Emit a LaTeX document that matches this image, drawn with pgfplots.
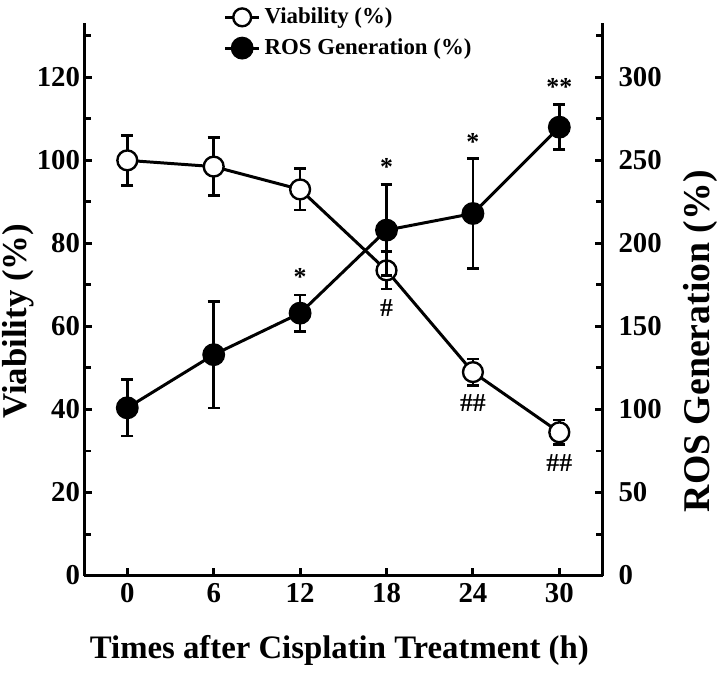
\documentclass[border=0pt]{standalone}
\usepackage{fontspec}
\setmainfont{Liberation Serif}
\usepackage{pgfplots}
\pgfplotsset{compat=1.18}
\begin{document}
\begin{tikzpicture}
\pgfplotsset{
  every axis/.append style={
    scale only axis, width=261pt, height=278pt,
    xmin=-3, xmax=33,
    line width=1.5pt,
    tick align=inside,
    major tick length=4pt, minor tick length=3.5pt,
    every tick/.style={line width=1.5pt, black},
    x axis line style={-}, y axis line style={-},
    /pgf/number format/assume math mode=true,
    tick label style={font=\bfseries\fontsize{14.5}{17}\selectfont},
  },
  vstyle/.style={black, line width=1.5pt, mark=*, mark size=5pt, mark options={fill=white, line width=1.2pt},
    error bars/.cd, y dir=both, y explicit, error bar style={line width=1.3pt}, error mark options={rotate=90, line width=1.3pt, mark size=3pt}},
  rstyle/.style={black, line width=1.5pt, mark=*, mark size=5pt, mark options={fill=black},
    error bars/.cd, y dir=both, y explicit, error bar style={line width=1.3pt}, error mark options={rotate=90, line width=1.3pt, mark size=3pt}},
}
\begin{axis}[
  axis y line*=left, axis x line*=bottom,
  ymin=0, ymax=133,
  ytick={0,20,...,120}, minor ytick={10,30,...,130},
  xtick={0,6,...,30},
  yticklabel style={xshift=2pt},
  xlabel={Times after Cisplatin Treatment (h)},
  ylabel={Viability (\%)},
  xlabel style={font=\bfseries\fontsize{16.5}{19}\selectfont, yshift=-9pt, xshift=-2pt},
  ylabel style={font=\bfseries\fontsize{17.5}{20}\selectfont, inner sep=1pt, yshift=-3.5pt, xshift=-11pt},
]
\addplot+[vstyle] coordinates {
  (0,100) +- (0,6)
  (6,98.5) +- (0,7)
  (12,93) +- (0,5)
  (18,73.5) +- (0,4.5)
  (24,49) +- (0,3.2)
  (30,34.5) +- (0,3)
};
\node[font=\bfseries\fontsize{13}{15}\selectfont, anchor=north] at (axis cs:18,68.5) {\#};
\node[font=\bfseries\fontsize{13}{15}\selectfont, anchor=north] at (axis cs:24,45.5) {\#\#};
\node[font=\bfseries\fontsize{13}{15}\selectfont, anchor=north] at (axis cs:30,31) {\#\#};
\end{axis}
\begin{axis}[
  axis y line*=right, axis x line=none,
  ymin=0, ymax=332.5,
  ytick={0,50,...,300}, minor ytick={25,75,...,325},
  yticklabel pos=right, ylabel near ticks,
  yticklabel style={xshift=4pt},
  ylabel={ROS Generation (\%)},
  ylabel style={font=\bfseries\fontsize{19}{22}\selectfont, inner sep=1pt, yshift=-6pt, xshift=-21pt},
  legend style={at={(0.255,1.045)}, anchor=north west, draw=none, fill=none,
    font=\bfseries\fontsize{11.5}{13}\selectfont, row sep=2pt, cells={anchor=west}},
  legend cell align=left,
]
\addlegendimage{black, line width=1.5pt, mark=*, mark size=4.5pt, mark options={fill=white, line width=1.2pt}}
\addlegendentry{Viability (\%)}
\addplot+[rstyle] coordinates {
  (0,101) +- (0,17)
  (6,133) +- (0,32)
  (12,158) +- (0,11)
  (18,208) +- (0,27.5)
  (24,218) +- (0,33)
  (30,270) +- (0,13.5)
};
\addlegendentry{ROS Generation (\%)}
\node[font=\bfseries\fontsize{13}{15}\selectfont, anchor=south] at (axis cs:12,170) {*};
\node[font=\bfseries\fontsize{13}{15}\selectfont, anchor=south] at (axis cs:18,236) {*};
\node[font=\bfseries\fontsize{13}{15}\selectfont, anchor=south] at (axis cs:24,251) {*};
\node[font=\bfseries\fontsize{13}{15}\selectfont, anchor=south] at (axis cs:30,284) {**};
\end{axis}
\end{tikzpicture}
\end{document}
